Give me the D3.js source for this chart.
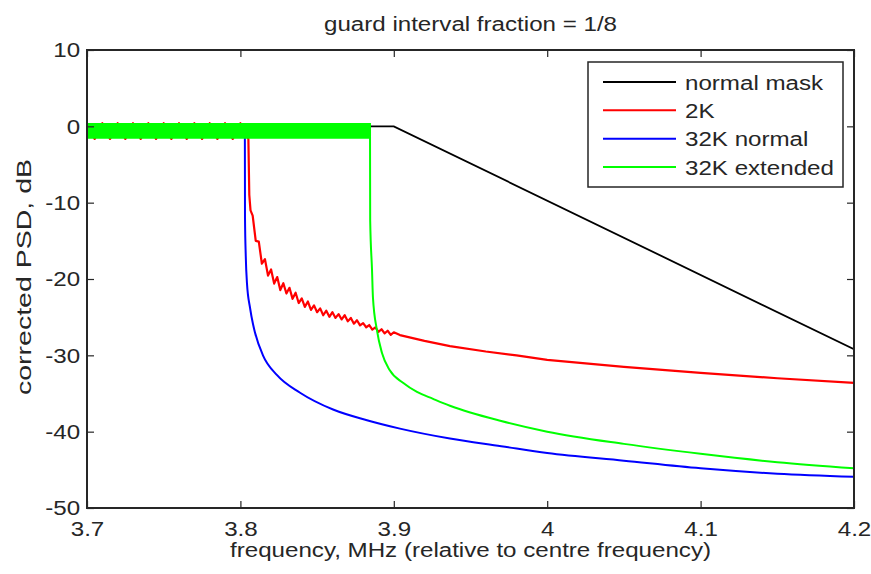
<!DOCTYPE html>
<html><head><meta charset="utf-8">
<script src="https://cdn.jsdelivr.net/npm/d3@7"></script>
<style>
html,body{margin:0;padding:0;background:#fff;}
text{font-family:"Liberation Sans",Arial,Helvetica,sans-serif;fill:#262626;}
</style></head>
<body><svg id="c" width="871" height="574"></svg>
<script>
// ---- data ----
const titleText = "guard interval fraction = 1/8";
const xLabelText = "frequency, MHz (relative to centre frequency)";
const yLabelText = "corrected PSD, dB";
const xTicks = [3.7, 3.8, 3.9, 4.0, 4.1, 4.2];
const xTickLabels = ["3.7", "3.8", "3.9", "4", "4.1", "4.2"];
const yTicks = [-50, -40, -30, -20, -10, 0, 10];
const yTickLabels = ["-50", "-40", "-30", "-20", "-10", "0", "10"];
const seriesNames = ["normal mask", "2K", "32K normal", "32K extended"];
const seriesColors = ["#000000", "#ff0000", "#0000ff", "#00ff00"];

// normal mask
const maskFreq = [3.7, 3.9, 4.2];
const maskPsd = [0, 0, -29.2];

// 2K
const k2Freq = [3.700,3.705,3.710,3.715,3.720,3.725,3.730,3.735,3.740,3.745,3.750,3.755,3.760,3.765,3.770,3.775,3.780,3.785,3.790,3.795,3.800,3.8052,
  3.8058,3.8066,
  3.808,3.810,3.812,3.814,3.816,3.818,3.820,3.822,3.824,3.826,3.828,3.830,3.832,3.834,3.836,3.838,3.840,3.842,3.844,3.846,3.848,3.850,
  3.852,3.854,3.856,3.858,3.860,3.862,3.864,3.866,3.868,3.870,3.872,3.874,3.876,3.878,3.880,3.882,3.884,3.886,3.888,3.890,3.892,3.894,3.896,3.898,3.900,
  3.904,3.920,3.9366,3.960,3.980,4.000,4.050,4.100,4.150,4.200];
const k2Psd = [0.42,-1.65,0.42,-1.65,0.42,-1.65,0.42,-1.65,0.42,-1.65,0.42,-1.65,0.42,-1.65,0.42,-1.65,0.42,-1.65,0.42,-1.65,0.42,-1.65,
  -9.0,-11.0,
  -11.7,-15.0,-15.1,-18.0,-17.4,-19.55,-18.75,-20.6,-19.75,-21.45,-20.55,-21.9,-21.15,-22.6,-21.8,-23.15,-22.55,-23.65,-22.95,-24.05,-23.45,-24.35,
  -23.85,-24.75,-24.15,-24.95,-24.35,-25.1,-24.6,-25.3,-24.75,-25.55,-25.1,-25.85,-25.4,-26.07,-25.78,-26.32,-26.03,-26.62,-26.33,-26.92,-26.58,-27.12,-26.78,-27.32,-26.98,
  -27.35,-28.1,-28.8,-29.5,-30.0,-30.6,-31.5,-32.3,-33.0,-33.6];

// 32K normal
const k32nFreq = [3.7000,3.8029,3.8030,3.8035,3.8043,3.8063,3.8082,3.8095,3.8147,3.8239,3.8389,3.8604,3.8825,3.904,3.9366,3.970,4.000,4.050,4.100,4.150,4.200];
const k32nPsd  = [-0.6,-0.6,-12.0,-17.0,-20.6,-23.8,-25.9,-27.0,-30.0,-32.6,-34.9,-37.1,-38.5,-39.6,-40.9,-41.9,-42.8,-43.8,-44.8,-45.5,-45.9];

// 32K extended: dense in-band ripple (band between ripple peaks and troughs), then roll-off
const k32eRippleFreq = [3.7, 3.8845];
const k32eRippleHigh = [0.3, 0.3];
const k32eRippleLow = [-1.5, -1.5];
const k32eFreq = [3.8845,3.8846,3.8858,3.8864,3.8890,3.8923,3.8975,3.906,3.9151,3.9256,3.9366,3.970,4.000,4.050,4.100,4.150,4.200];
const k32ePsd  = [-1.5,-12.3,-18.8,-22.4,-26.7,-29.7,-32.0,-33.6,-34.8,-35.7,-36.6,-38.6,-40.0,-41.6,-42.9,-44.0,-44.8];

// ---- drawing ----
const W = 871, H = 574;
const pLeft = 87, pRight = 854, pTop = 50, pBottom = 508;
const svg = d3.select("#c");
const x = d3.scaleLinear().domain([3.7, 4.2]).range([pLeft, pRight]);
const y = d3.scaleLinear().domain([-50, 10]).range([pBottom, pTop]);
const FS = 21, SX = 1.15;
const axColor = "#262626";

svg.append("rect").attr("width", W).attr("height", H).attr("fill", "#fff");
svg.append("clipPath").attr("id", "pc").append("rect")
  .attr("x", pLeft).attr("y", pTop).attr("width", pRight - pLeft).attr("height", pBottom - pTop);

const plot = svg.append("g").attr("clip-path", "url(#pc)");
const lin = d3.line().x(d => x(d[0])).y(d => y(d[1]));
const mono = d3.line().x(d => x(d[0])).y(d => y(d[1])).curve(d3.curveMonotoneX);
const zip = (f, p) => f.map((v, i) => [v, p[i]]);

plot.append("path").datum(zip(maskFreq, maskPsd)).attr("d", lin)
  .attr("fill", "none").attr("stroke", seriesColors[0]).attr("stroke-width", 1.8);
plot.append("path").datum(zip(k2Freq, k2Psd)).attr("d", lin)
  .attr("fill", "none").attr("stroke", seriesColors[1]).attr("stroke-width", 2.2).attr("stroke-linejoin", "round");
plot.append("path").datum(zip(k32nFreq, k32nPsd)).attr("d", mono)
  .attr("fill", "none").attr("stroke", seriesColors[2]).attr("stroke-width", 2);
const band = d3.area().x(d => x(d[0])).y0(d => y(d[2])).y1(d => y(d[1]));
plot.append("path").datum(k32eRippleFreq.map((f, i) => [f, k32eRippleHigh[i], k32eRippleLow[i]]))
  .attr("d", band).attr("fill", seriesColors[3]).attr("stroke", seriesColors[3]).attr("stroke-width", 2);
plot.append("path").datum(zip(k32eFreq, k32ePsd)).attr("d", mono)
  .attr("fill", "none").attr("stroke", seriesColors[3]).attr("stroke-width", 2);

// axes
const xb = svg.append("g").attr("transform", `translate(0,${pBottom})`)
  .call(d3.axisBottom(x).tickValues(xTicks).tickFormat((d, i) => xTickLabels[i]).tickSizeInner(-7).tickSizeOuter(0).tickPadding(13));
const xt = svg.append("g").attr("transform", `translate(0,${pTop})`)
  .call(d3.axisTop(x).tickValues(xTicks).tickFormat("").tickSizeInner(-7).tickSizeOuter(0));
const yl = svg.append("g").attr("transform", `translate(${pLeft},0)`)
  .call(d3.axisLeft(y).tickValues(yTicks).tickFormat((d, i) => yTickLabels[i]).tickSizeInner(-7).tickSizeOuter(0).tickPadding(6));
const yr = svg.append("g").attr("transform", `translate(${pRight},0)`)
  .call(d3.axisRight(y).tickValues(yTicks).tickFormat("").tickSizeInner(-7).tickSizeOuter(0));
[xb, xt, yl, yr].forEach(g => {
  g.select(".domain").remove();
  g.selectAll(".tick line").attr("stroke", axColor).attr("stroke-width", 1.2);
  g.selectAll(".tick text").attr("fill", axColor).style("font-size", FS + "px")
    .style("font-family", '"Liberation Sans",Arial,sans-serif')
    .attr("transform", `scale(${SX},1)`);
});
svg.append("rect").attr("x", pLeft).attr("y", pTop).attr("width", pRight - pLeft).attr("height", pBottom - pTop)
  .attr("fill", "none").attr("stroke", axColor).attr("stroke-width", 2);

// labels
function hText(px, py, str, anchor) {
  return svg.append("g").attr("transform", `translate(${px},${py}) scale(${SX},1)`)
    .append("text").attr("text-anchor", anchor || "start").style("font-size", FS + "px").text(str);
}
hText((pLeft + pRight) / 2, 31, titleText, "middle");
hText((pLeft + pRight) / 2, 557, xLabelText, "middle");
svg.append("text").attr("transform", `translate(31,${(pTop + pBottom) / 2 - 2}) rotate(-90)`).attr("text-anchor", "middle")
  .attr("textLength", 236).attr("lengthAdjust", "spacingAndGlyphs")
  .style("font-size", FS + "px").text(yLabelText);

// legend
const lg = svg.append("g");
lg.append("rect").attr("x", 588).attr("y", 62).attr("width", 255).attr("height", 125)
  .attr("fill", "#fff").attr("stroke", axColor).attr("stroke-width", 1.5);
const rowY = d3.scalePoint().domain(seriesNames).range([82, 167]);
seriesNames.forEach((n, i) => {
  lg.append("line").attr("x1", 603).attr("x2", 676).attr("y1", rowY(n)).attr("y2", rowY(n))
    .attr("stroke", seriesColors[i]).attr("stroke-width", 2);
  hText(685, rowY(n) + 7.5, n, "start");
});
</script></body></html>
